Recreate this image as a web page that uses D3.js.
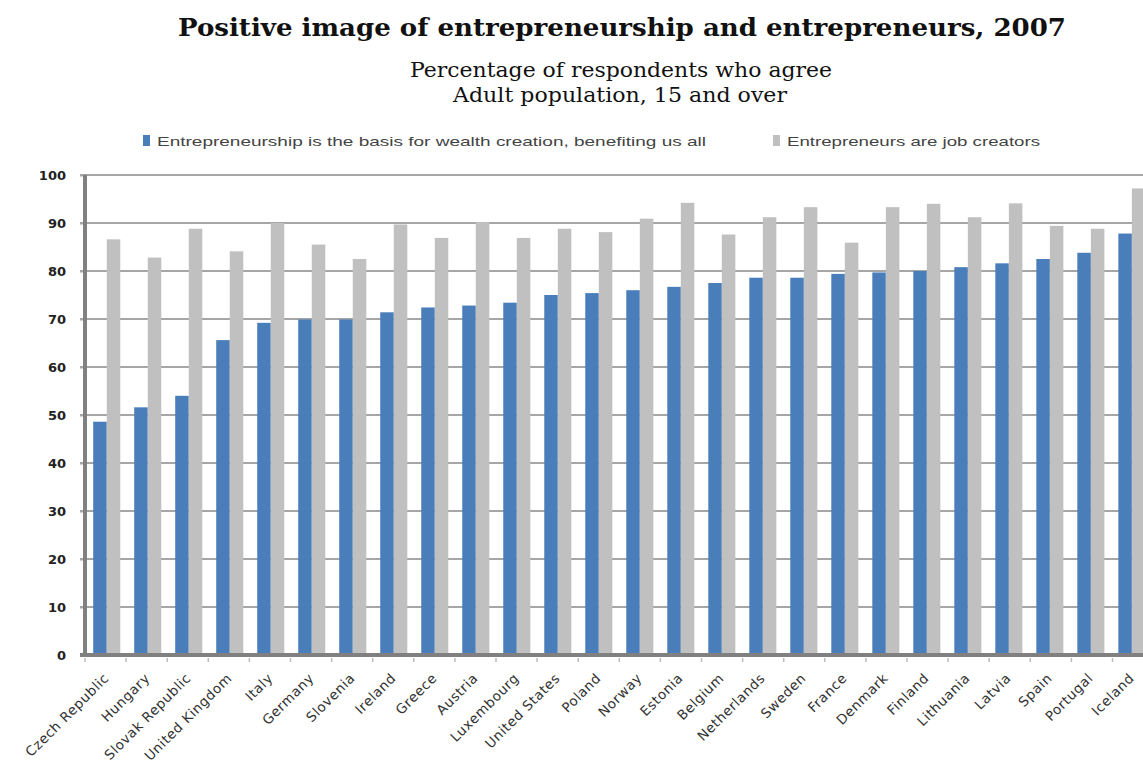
<!DOCTYPE html>
<html>
<head>
<meta charset="utf-8">
<script src="https://cdn.jsdelivr.net/npm/d3@7"></script>
<style>
  body { margin: 0; background: #fff; }
  svg { display: block; overflow: hidden; }
</style>
</head>
<body>
<svg id="chart" width="1143" height="766"></svg>
<script>
// data
const countries = ["Czech Republic", "Hungary", "Slovak Republic", "United Kingdom", "Italy",
  "Germany", "Slovenia", "Ireland", "Greece", "Austria", "Luxembourg", "United States",
  "Poland", "Norway", "Estonia", "Belgium", "Netherlands", "Sweden", "France", "Denmark",
  "Finland", "Lithuania", "Latvia", "Spain", "Portugal", "Iceland"];
const wealthCreation = [48.6, 51.6, 54.0, 65.6, 69.2, 69.9, 69.9, 71.4, 72.4, 72.8, 73.4, 75.0,
  75.4, 76.0, 76.7, 77.5, 78.6, 78.6, 79.4, 79.7, 80.0, 80.8, 81.6, 82.5, 83.8, 87.8];
const jobCreators = [86.6, 82.8, 88.8, 84.1, 90.0, 85.5, 82.5, 89.7, 86.9, 90.2, 86.9, 88.8,
  88.1, 90.9, 94.2, 87.6, 91.2, 93.3, 85.9, 93.3, 94.0, 91.2, 94.1, 89.4, 88.8, 97.2];
const seriesNames = ["Entrepreneurship is the basis for wealth creation, benefiting us all",
  "Entrepreneurs are job creators"];
const yTicks = [0, 10, 20, 30, 40, 50, 60, 70, 80, 90, 100];

const colors = ["#4a7ebb", "#c0c0c0"];
const svg = d3.select("#chart");

const plotLeft = 85, plotTop = 175, plotBottom = 655;
const step = 41.1;

const y = d3.scaleLinear().domain([0, 100]).range([plotBottom, plotTop]);
const x0 = d3.scaleBand()
  .domain(countries)
  .range([plotLeft, plotLeft + step * countries.length])
  .paddingInner(0.34)
  .paddingOuter(0.2);
const x1 = d3.scaleBand().domain([0, 1]).range([0, x0.bandwidth()]);

// titles
svg.append("text")
  .attr("x", 622).attr("y", 36)
  .attr("text-anchor", "middle")
  .attr("font-family", "'DejaVu Serif', serif")
  .attr("font-weight", "bold")
  .attr("font-size", 24)
  .attr("textLength", 888).attr("lengthAdjust", "spacingAndGlyphs")
  .attr("fill", "#111")
  .text("Positive image of entrepreneurship and entrepreneurs, 2007");

svg.append("text")
  .attr("x", 621).attr("y", 77)
  .attr("text-anchor", "middle")
  .attr("font-family", "'DejaVu Serif', serif")
  .attr("font-size", 20)
  .attr("textLength", 422).attr("lengthAdjust", "spacingAndGlyphs")
  .attr("fill", "#111")
  .text("Percentage of respondents who agree");

svg.append("text")
  .attr("x", 620).attr("y", 102)
  .attr("text-anchor", "middle")
  .attr("font-family", "'DejaVu Serif', serif")
  .attr("font-size", 20)
  .attr("textLength", 334).attr("lengthAdjust", "spacingAndGlyphs")
  .attr("fill", "#111")
  .text("Adult population, 15 and over");

// legend
const legendX = [143, 773], legendLen = [549, 253];
const legend = svg.append("g").selectAll("g")
  .data(seriesNames)
  .join("g")
  .attr("transform", (d, i) => "translate(" + legendX[i] + ",135)");
legend.append("rect")
  .attr("width", 7).attr("height", 11)
  .attr("fill", (d, i) => colors[i]);
legend.append("text")
  .attr("x", 14).attr("y", 10.5)
  .attr("font-family", "'Liberation Sans Narrow', 'Liberation Sans', sans-serif")
  .attr("font-size", 13.5)
  .attr("fill", "#444")
  .attr("textLength", (d, i) => legendLen[i]).attr("lengthAdjust", "spacingAndGlyphs")
  .text(d => d);

// gridlines
svg.append("g")
  .selectAll("line")
  .data(yTicks.filter(d => d > 0))
  .join("line")
  .attr("x1", plotLeft - 5).attr("x2", 1143)
  .attr("y1", d => y(d)).attr("y2", d => y(d))
  .attr("stroke", "#a6a6a6")
  .attr("stroke-width", 2);

// y axis labels
const yAxis = svg.append("g")
  .attr("transform", "translate(" + plotLeft + ",0)")
  .call(d3.axisLeft(y).tickValues(yTicks).tickSize(5).tickPadding(14));
yAxis.select(".domain").remove();
yAxis.selectAll(".tick line").attr("stroke", "#a6a6a6").attr("stroke-width", 2);
yAxis.selectAll("text")
  .attr("font-family", "'DejaVu Sans', sans-serif")
  .attr("font-size", 13)
  .attr("font-weight", "bold")
  .attr("fill", "#222");

// bars
const values = [wealthCreation, jobCreators];
const groups = svg.append("g")
  .selectAll("g")
  .data(countries)
  .join("g")
  .attr("transform", d => "translate(" + x0(d) + ",0)");
groups.selectAll("rect")
  .data((d, i) => [0, 1].map(s => ({ s: s, v: values[s][i] })))
  .join("rect")
  .attr("x", d => x1(d.s))
  .attr("width", x1.bandwidth())
  .attr("y", d => y(d.v))
  .attr("height", d => y(0) - y(d.v))
  .attr("fill", d => colors[d.s]);

// axis lines
svg.append("line")
  .attr("x1", plotLeft).attr("x2", plotLeft)
  .attr("y1", plotTop).attr("y2", plotBottom + 2)
  .attr("stroke", "#808080").attr("stroke-width", 4);
svg.append("line")
  .attr("x1", plotLeft - 5).attr("x2", 1143)
  .attr("y1", plotBottom).attr("y2", plotBottom)
  .attr("stroke", "#808080").attr("stroke-width", 4);

// small ticks between categories
svg.append("g")
  .selectAll("line")
  .data(d3.range(countries.length + 1))
  .join("line")
  .attr("x1", i => plotLeft + i * step).attr("x2", i => plotLeft + i * step)
  .attr("y1", plotBottom + 3).attr("y2", plotBottom + 7)
  .attr("stroke", "#bbb").attr("stroke-width", 1.5);

// rotated country labels
svg.append("g")
  .selectAll("text")
  .data(countries)
  .join("text")
  .attr("transform", d => "translate(" + (x0(d) + x0.bandwidth() / 2 + 3) + "," + (plotBottom + 24) + ") rotate(-45)")
  .attr("text-anchor", "end")
  .attr("font-family", "'DejaVu Sans', sans-serif")
  .attr("font-size", 13.5)
  .attr("letter-spacing", 0.6)
  .attr("fill", "#333")
  .text(d => d);
</script>
</body>
</html>
